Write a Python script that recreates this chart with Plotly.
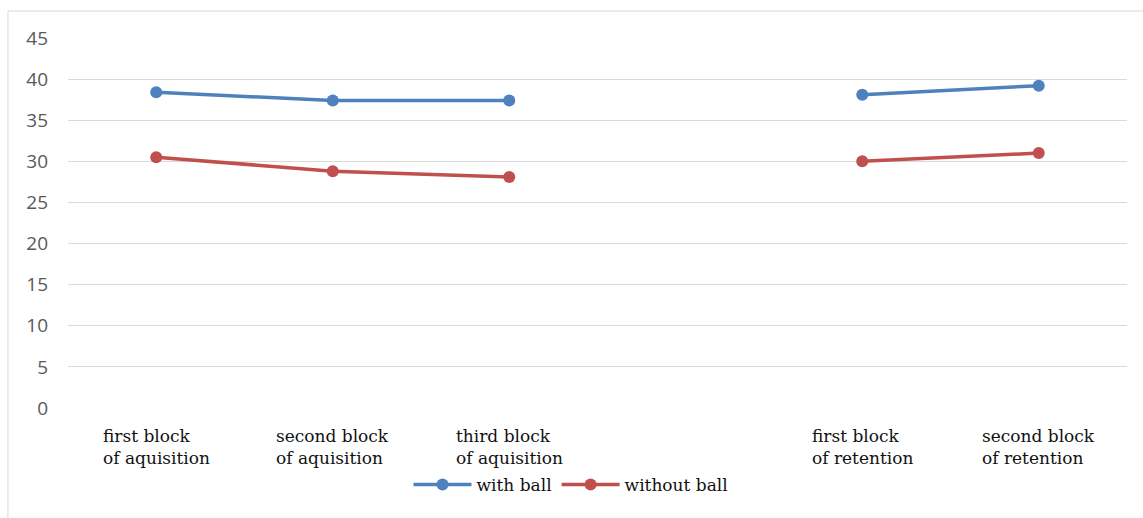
import plotly.graph_objects as go

# Blocks of the experiment (an empty slot separates acquisition from retention)
categories = [
    "first block<br>of aquisition",
    "second block<br>of aquisition",
    "third block<br>of aquisition",
    "",
    "first block<br>of retention",
    "second block<br>of retention",
]
with_ball = [38.4, 37.4, 37.4, None, 38.1, 39.2]
without_ball = [30.5, 28.8, 28.1, None, 30.0, 31.0]
y_ticks = [0, 5, 10, 15, 20, 25, 30, 35, 40, 45]

BLUE = "#4F81BD"
RED = "#C0504D"
SERIF = "DejaVu Serif"

x_idx = list(range(len(categories)))

fig = go.Figure()
for name, vals, col in [("with ball", with_ball, BLUE), ("without ball", without_ball, RED)]:
    fig.add_trace(go.Scatter(
        x=x_idx, y=vals, name=name, mode="lines+markers",
        connectgaps=False,
        line=dict(color=col, width=3.5),
        marker=dict(color=col, size=12),
    ))

# category labels under the axis, left-aligned blocks centred on each slot
for i, lab in enumerate(categories):
    if not lab:
        continue
    fig.add_annotation(
        x=i, y=0, xref="x", yref="paper", text=lab, showarrow=False,
        xanchor="center", yanchor="top", yshift=-16, align="left",
        font=dict(family=SERIF, size=17, color="#111111"),
    )

# light frame around the chart
fig.add_shape(type="rect", xref="paper", yref="paper",
              x0=-0.0567, x1=1.2, y0=-0.5, y1=1.073,
              line=dict(color="#d9d9d9", width=1), layer="below")

fig.update_layout(
    width=1143, height=518,
    margin=dict(l=68, r=16, t=38, b=110),
    paper_bgcolor="white", plot_bgcolor="white",
    showlegend=True,
    legend=dict(orientation="h", x=0.475, xanchor="center", y=-0.208, yanchor="middle",
                font=dict(family=SERIF, size=17, color="#111111"),
                itemwidth=58, traceorder="normal", bgcolor="rgba(0,0,0,0)"),
    xaxis=dict(range=[-0.5, len(categories) - 0.5], showticklabels=False,
               showgrid=False, zeroline=False, showline=False),
    yaxis=dict(range=[0, 45], tickvals=y_ticks, showgrid=True, gridcolor="#d9d9d9",
               gridwidth=1, zeroline=False, showline=False, ticks="",
               ticklabelstandoff=19,
               tickfont=dict(family="Open Sans", size=19, color="#595959")),
)

fig.write_html("out.html")
